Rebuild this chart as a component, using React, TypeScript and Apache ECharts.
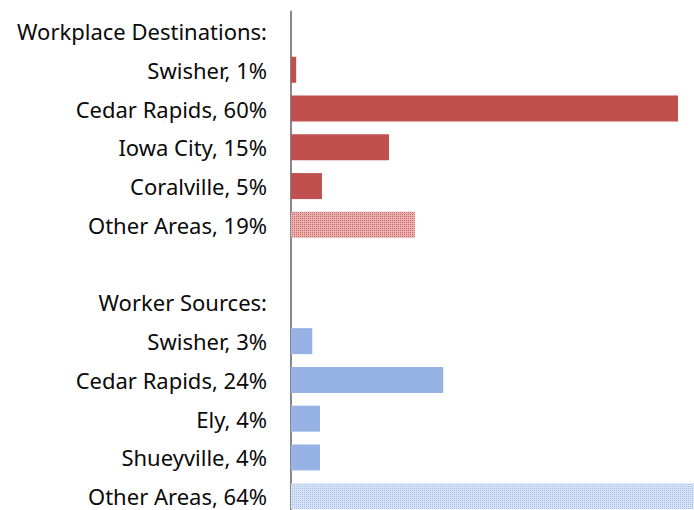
import React, { useEffect, useRef } from "react";
import * as echarts from "echarts";

const categories = [
  "Workplace Destinations:",
  "Swisher, 1%",
  "Cedar Rapids, 60%",
  "Iowa City, 15%",
  "Coralville, 5%",
  "Other Areas, 19%",
  "",
  "Worker Sources:",
  "Swisher, 3%",
  "Cedar Rapids, 24%",
  "Ely, 4%",
  "Shueyville, 4%",
  "Other Areas, 64%",
];

const destinationValues = [null, 0.8, 60, 15.2, 4.8, 19.2, null, null, null, null, null, null, null];
const sourceValues = [null, null, null, null, null, null, null, null, 3.3, 23.6, 4.5, 4.5, 64];
const hatchedRows = [5, 12];

const RED = "#C0504D";
const BLUE = "#97B3E5";

function buildData(values: (number | null)[], color: string, hatchBase: string, hatchDot: string) {
  return values.map((v, i) => {
    if (v === null) return null;
    if (hatchedRows.includes(i)) {
      return {
        value: v,
        itemStyle: {
          color: hatchBase,
          decal: {
            symbol: "rect",
            symbolSize: 1,
            dashArrayX: [1, 1],
            dashArrayY: [1, 1],
            color: hatchDot,
            rotation: 0,
          },
        },
      };
    }
    return { value: v, itemStyle: { color } };
  });
}

export default function App() {
  const ref = useRef<HTMLDivElement>(null);
  useEffect(() => {
    document.body.style.overflow = "hidden";
    if (!ref.current) return;
    const chart = echarts.init(ref.current, null, { renderer: "svg" });
    chart.setOption({
      animation: false,
      backgroundColor: "#ffffff",
      grid: { left: 291, top: 11.6, width: 645, height: 504, containLabel: false },
      xAxis: {
        type: "value",
        min: 0,
        max: 100,
        show: false,
      },
      yAxis: {
        type: "category",
        data: categories,
        inverse: true,
        axisLine: { show: true, lineStyle: { color: "#888888", width: 2 } },
        axisTick: { show: false },
        axisLabel: {
          margin: 24,
          color: "#0a0a0a",
          fontFamily: "Noto Sans",
          fontSize: 22,
        },
      },
      series: [
        {
          type: "bar",
          stack: "all",
          barWidth: 26,
          data: buildData(destinationValues, RED, "#EAB2B1", "#CB6462"),
        },
        {
          type: "bar",
          stack: "all",
          barWidth: 26,
          data: buildData(sourceValues, BLUE, "#D7E3F7", "#A6BEEA"),
        },
      ],
    });
    return () => chart.dispose();
  }, []);
  return (
    <div
      ref={ref}
      style={{ position: "fixed", left: 0, top: 0, width: 1000, height: 540 }}
    />
  );
}
